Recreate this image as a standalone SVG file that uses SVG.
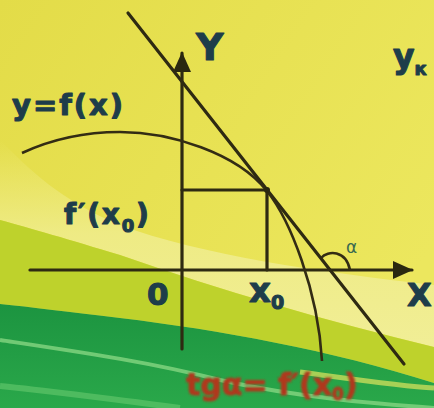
<svg xmlns="http://www.w3.org/2000/svg" width="434" height="408" viewBox="0 0 434 408">
<defs>
<linearGradient id="bg" x1="0" y1="0" x2="1" y2="0.6">
<stop offset="0" stop-color="#e3dc48"/>
<stop offset="1" stop-color="#ece75e"/>
</linearGradient>
<linearGradient id="pale" x1="0" y1="0" x2="0" y2="1">
<stop offset="0" stop-color="#efec86" stop-opacity="0"/>
<stop offset="0.45" stop-color="#efec8a" stop-opacity="0.9"/>
<stop offset="1" stop-color="#f1ee96"/>
</linearGradient>
<linearGradient id="grn" x1="0" y1="0" x2="0" y2="1">
<stop offset="0" stop-color="#1c9440"/>
<stop offset="1" stop-color="#2aa84a"/>
</linearGradient>
<filter id="blur" x="-5%" y="-20%" width="110%" height="140%"><feGaussianBlur stdDeviation="0.8"/></filter>
<marker id="arr" viewBox="0 0 20 18" refX="19" refY="9" markerWidth="20" markerHeight="18" markerUnits="userSpaceOnUse" orient="auto">
<path d="M0,0 L20,9 L0,18 Z" fill="#2a2810"/>
</marker>
</defs>
<style>
.ln{fill:none;stroke:#2e2a12;stroke-width:3.2;stroke-linecap:round}
.cv{fill:none;stroke:#332c14;stroke-width:2.6}
.lb{font-family:"DejaVu Sans",sans-serif;font-weight:bold;fill:#1e3d4a;stroke:#1e3d4a;stroke-width:1.1;stroke-linejoin:round}
.red{font-family:"DejaVu Sans",sans-serif;font-weight:bold;fill:#b0381f;stroke:#b0381f;stroke-width:0.8}
</style>
<!-- background -->
<rect width="434" height="408" fill="url(#bg)"/>
<path d="M0,140 C30,170 60,200 120,225 C200,255 320,272 434,285 L434,347 C330,322 220,290 120,255 C70,240 30,228 0,220 Z" fill="url(#pale)"/>
<path d="M0,220 C30,228 70,240 120,255 C220,290 330,322 434,347 L434,383 C330,350 220,330 120,318 C70,312 30,307 0,304 Z" fill="#bed22c"/>
<path d="M0,304 C30,307 70,312 120,318 C220,330 330,350 434,383 L434,408 L0,408 Z" fill="url(#grn)"/>
<path d="M0,340 C80,352 150,362 220,380 C300,398 380,404 434,408" fill="none" stroke="#7fd27e" stroke-width="4" opacity="0.85"/>
<path d="M0,386 C60,392 120,400 180,408" fill="none" stroke="#5ec46a" stroke-width="6" opacity="0.7"/>
<path d="M300,372 C360,380 400,386 434,388" fill="none" stroke="#c8dc5a" stroke-width="5" opacity="0.8"/>

<g id="connectors">
<line id="x-axis" class="ln" x1="30" y1="270" x2="412" y2="270" marker-end="url(#arr)"/>
<line id="y-axis" class="ln" x1="182" y1="349" x2="182" y2="53" marker-end="url(#arr)"/>
<line id="tangent" class="ln" x1="128" y1="13" x2="404" y2="364"/>
<path id="curve" class="cv" d="M22,153 C50,140 85,132 120,132 C170,132 237,153 267,191 C290,220 318,290 322,361"/>
<polyline id="guides" class="ln" points="182,190 267,190 267,270" stroke-width="2.6"/>
<path id="angle-arc" class="cv" d="M321,258 C328,250 346,250 350,270"/>
<circle cx="267" cy="190" r="3" fill="#2a2810"/>
</g>

<g id="label-Y"><text class="lb" x="196" y="60" font-size="38">Y</text></g>
<g id="label-yk"><text class="lb" x="393" y="68" font-size="33">y<tspan font-size="18" dy="7">к</tspan></text></g>
<g id="label-fx"><text class="lb" x="12" y="115" font-size="29" letter-spacing="2">y=f(x)</text></g>
<g id="label-fpx0"><text class="lb" x="64" y="224" font-size="28" letter-spacing="1.8">f′(x<tspan font-size="18" dy="8">0</tspan><tspan dy="-8">)</tspan></text></g>
<g id="label-0"><text class="lb" x="147" y="305" font-size="31">0</text></g>
<g id="label-x0"><text class="lb" x="249" y="302" font-size="34">x<tspan font-size="19" dy="7">0</tspan></text></g>
<g id="label-X"><text class="lb" x="407" y="306" font-size="32">X</text></g>
<g id="label-alpha"><text x="346" y="253" font-family="DejaVu Sans, sans-serif" font-size="17" fill="#3a6a50">α</text></g>
<g id="label-formula" filter="url(#blur)"><text class="red" x="186" y="395" font-size="30">tgα= f′(x<tspan font-size="17" dy="5">0</tspan><tspan dy="-5">)</tspan></text></g>
</svg>
